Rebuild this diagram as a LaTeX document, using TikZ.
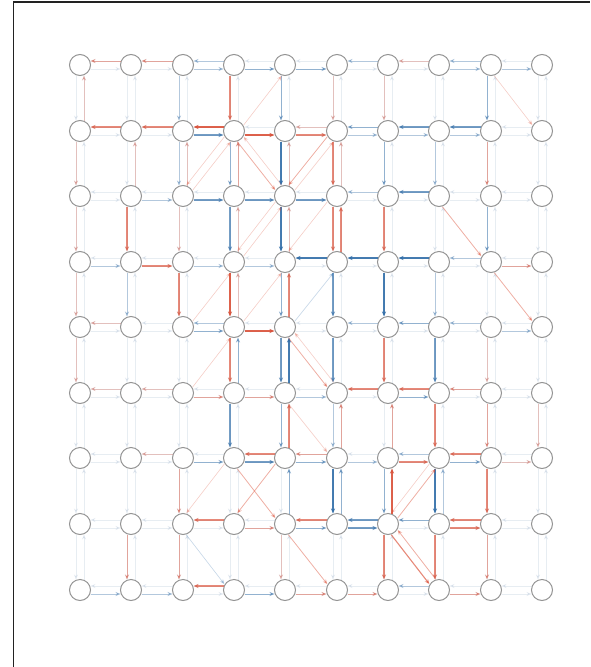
\documentclass[tikz,border=0pt]{standalone}
\usetikzlibrary{arrows.meta,calc}
\definecolor{rd}{HTML}{DA4C33}
\definecolor{bl}{HTML}{2C6AA6}
\definecolor{pale}{HTML}{A9BDD2}
\definecolor{ringgray}{HTML}{949494}
\definecolor{frameink}{HTML}{222222}
\newcommand{\noderow}[2]{%
  \node[unit] (n0#1) at (80,#2) {};
  \node[unit] (n1#1) at (131,#2) {};
  \node[unit] (n2#1) at (183,#2) {};
  \node[unit] (n3#1) at (234,#2) {};
  \node[unit] (n4#1) at (285,#2) {};
  \node[unit] (n5#1) at (337,#2) {};
  \node[unit] (n6#1) at (388,#2) {};
  \node[unit] (n7#1) at (439,#2) {};
  \node[unit] (n8#1) at (491,#2) {};
  \node[unit] (n9#1) at (542,#2) {};
}
\newcommand{\arcto}[4]{\draw[#3, #4] ($(#1.center)!4pt!-90:(#2.center)$) -- ($(#2.center)!4pt!90:(#1.center)$);}
\newcommand{\twoway}[2]{\arcto{#1}{#2}{pale}{haze}\arcto{#2}{#1}{pale}{haze}}
\newcommand{\hlinks}[1]{%
  \twoway{n0#1}{n1#1}\twoway{n1#1}{n2#1}\twoway{n2#1}{n3#1}
  \twoway{n3#1}{n4#1}\twoway{n4#1}{n5#1}\twoway{n5#1}{n6#1}
  \twoway{n6#1}{n7#1}\twoway{n7#1}{n8#1}\twoway{n8#1}{n9#1}
}
\newcommand{\vlinks}[2]{%
  \twoway{n0#1}{n0#2}\twoway{n1#1}{n1#2}\twoway{n2#1}{n2#2}
  \twoway{n3#1}{n3#2}\twoway{n4#1}{n4#2}\twoway{n5#1}{n5#2}
  \twoway{n6#1}{n6#2}\twoway{n7#1}{n7#2}\twoway{n8#1}{n8#2}
  \twoway{n9#1}{n9#2}
}

\begin{document}
\begin{tikzpicture}[x=1pt, y=-1pt,
  unit/.style={circle, draw=ringgray, fill=white, line width=1pt, minimum size=21pt, inner sep=0pt},
  tipped/.style={-{Stealth[length=5pt,width=4pt]}, shorten <=10.5pt, shorten >=10.5pt},
  haze/.style={tipped, line width=0.5pt, opacity=0.28},
  faint/.style={tipped, line width=0.6pt, opacity=0.28},
  light/.style={tipped, line width=0.8pt, opacity=0.45},
  mid/.style={tipped, line width=1.1pt, opacity=0.66},
  strong/.style={tipped, line width=1.4pt, opacity=0.88}]

  \useasboundingbox (0,0) rectangle (590,667);
  \draw[frameink, line width=1.5pt] (13.5,667) -- (13.5,2) -- (590,2);

  \noderow{0}{65}
  \noderow{1}{131}
  \noderow{2}{196}
  \noderow{3}{262}
  \noderow{4}{327}
  \noderow{5}{393}
  \noderow{6}{458}
  \noderow{7}{524}
  \noderow{8}{590}

  \hlinks{0} \hlinks{1} \hlinks{2} \hlinks{3} \hlinks{4}
  \hlinks{5} \hlinks{6} \hlinks{7} \hlinks{8}
  \vlinks{0}{1} \vlinks{1}{2} \vlinks{2}{3} \vlinks{3}{4}
  \vlinks{4}{5} \vlinks{5}{6} \vlinks{6}{7} \vlinks{7}{8}

  \arcto{n10}{n00}{rd}{light}
  \arcto{n20}{n10}{rd}{light}
  \arcto{n20}{n30}{bl}{faint}
  \arcto{n30}{n20}{bl}{faint}
  \arcto{n30}{n40}{bl}{light}
  \arcto{n40}{n50}{bl}{light}
  \arcto{n60}{n50}{bl}{faint}
  \arcto{n70}{n60}{rd}{faint}
  \arcto{n70}{n80}{bl}{faint}
  \arcto{n80}{n70}{bl}{faint}
  \arcto{n80}{n90}{bl}{faint}

  \arcto{n01}{n00}{rd}{faint}
  \arcto{n20}{n21}{bl}{faint}
  \arcto{n30}{n31}{rd}{mid}
  \arcto{n40}{n41}{bl}{light}
  \arcto{n50}{n51}{rd}{faint}
  \arcto{n60}{n61}{rd}{faint}
  \arcto{n80}{n81}{bl}{light}
  \arcto{n80}{n91}{rd}{faint}

  \arcto{n11}{n01}{rd}{mid}
  \arcto{n21}{n11}{rd}{mid}
  \arcto{n31}{n21}{rd}{strong}
  \arcto{n21}{n31}{bl}{mid}
  \arcto{n31}{n41}{rd}{strong}
  \arcto{n41}{n51}{rd}{mid}
  \arcto{n51}{n41}{rd}{faint}
  \arcto{n61}{n51}{bl}{light}
  \arcto{n51}{n61}{bl}{faint}
  \arcto{n71}{n61}{bl}{mid}
  \arcto{n61}{n71}{bl}{faint}
  \arcto{n81}{n71}{bl}{mid}
  \arcto{n71}{n81}{bl}{faint}

  \arcto{n01}{n02}{rd}{faint}
  \arcto{n12}{n11}{rd}{faint}
  \arcto{n21}{n22}{bl}{faint}
  \arcto{n22}{n21}{rd}{faint}
  \arcto{n31}{n32}{bl}{light}
  \arcto{n32}{n31}{rd}{light}
  \arcto{n41}{n42}{bl}{strong}
  \arcto{n42}{n41}{rd}{faint}
  \arcto{n51}{n52}{rd}{mid}
  \arcto{n52}{n51}{rd}{faint}
  \arcto{n61}{n62}{bl}{light}
  \arcto{n71}{n72}{bl}{faint}
  \arcto{n81}{n82}{rd}{light}
  \arcto{n31}{n22}{rd}{faint}
  \arcto{n22}{n31}{rd}{faint}
  \arcto{n31}{n42}{rd}{light}
  \arcto{n42}{n31}{rd}{faint}
  \arcto{n51}{n42}{rd}{light}
  \arcto{n42}{n51}{rd}{faint}
  \arcto{n31}{n40}{rd}{faint}

  \arcto{n12}{n22}{bl}{faint}
  \arcto{n22}{n32}{bl}{mid}
  \arcto{n32}{n42}{bl}{mid}
  \arcto{n42}{n52}{bl}{mid}
  \arcto{n62}{n52}{bl}{faint}
  \arcto{n72}{n62}{bl}{mid}

  \arcto{n02}{n03}{rd}{faint}
  \arcto{n12}{n13}{rd}{mid}
  \arcto{n22}{n23}{rd}{faint}
  \arcto{n32}{n33}{bl}{mid}
  \arcto{n33}{n32}{rd}{faint}
  \arcto{n42}{n43}{bl}{strong}
  \arcto{n43}{n42}{rd}{faint}
  \arcto{n52}{n53}{rd}{mid}
  \arcto{n53}{n52}{rd}{mid}
  \arcto{n62}{n63}{rd}{mid}
  \arcto{n82}{n83}{bl}{light}
  \arcto{n72}{n83}{rd}{light}
  \arcto{n42}{n33}{rd}{faint}
  \arcto{n52}{n43}{rd}{faint}
  \arcto{n33}{n42}{rd}{faint}

  \arcto{n03}{n13}{bl}{faint}
  \arcto{n13}{n23}{rd}{mid}
  \arcto{n23}{n33}{bl}{faint}
  \arcto{n33}{n43}{bl}{faint}
  \arcto{n53}{n43}{bl}{strong}
  \arcto{n63}{n53}{bl}{strong}
  \arcto{n73}{n63}{bl}{strong}
  \arcto{n83}{n73}{bl}{faint}
  \arcto{n83}{n93}{rd}{light}

  \arcto{n03}{n04}{rd}{faint}
  \arcto{n13}{n14}{bl}{faint}
  \arcto{n23}{n24}{rd}{mid}
  \arcto{n33}{n34}{rd}{strong}
  \arcto{n34}{n33}{rd}{faint}
  \arcto{n43}{n44}{bl}{light}
  \arcto{n44}{n43}{rd}{mid}
  \arcto{n53}{n54}{bl}{mid}
  \arcto{n63}{n64}{bl}{strong}
  \arcto{n73}{n74}{bl}{faint}
  \arcto{n83}{n94}{rd}{light}
  \arcto{n24}{n33}{rd}{faint}
  \arcto{n34}{n43}{rd}{faint}
  \arcto{n44}{n53}{bl}{faint}

  \arcto{n14}{n04}{rd}{faint}
  \arcto{n24}{n34}{bl}{light}
  \arcto{n34}{n24}{bl}{faint}
  \arcto{n34}{n44}{rd}{strong}
  \arcto{n64}{n54}{bl}{faint}
  \arcto{n74}{n64}{bl}{light}
  \arcto{n84}{n74}{bl}{faint}
  \arcto{n84}{n94}{bl}{faint}

  \arcto{n04}{n05}{rd}{faint}
  \arcto{n34}{n35}{rd}{mid}
  \arcto{n35}{n34}{bl}{light}
  \arcto{n44}{n45}{bl}{mid}
  \arcto{n45}{n44}{bl}{strong}
  \arcto{n54}{n55}{bl}{mid}
  \arcto{n64}{n65}{rd}{mid}
  \arcto{n74}{n75}{bl}{mid}
  \arcto{n84}{n85}{rd}{faint}
  \arcto{n44}{n55}{rd}{light}
  \arcto{n55}{n44}{rd}{faint}
  \arcto{n25}{n34}{rd}{faint}

  \arcto{n15}{n05}{rd}{faint}
  \arcto{n25}{n15}{rd}{faint}
  \arcto{n25}{n35}{rd}{light}
  \arcto{n35}{n45}{rd}{light}
  \arcto{n45}{n55}{bl}{faint}
  \arcto{n65}{n55}{rd}{mid}
  \arcto{n75}{n65}{rd}{mid}
  \arcto{n65}{n75}{bl}{light}
  \arcto{n85}{n75}{rd}{light}

  \arcto{n35}{n36}{bl}{mid}
  \arcto{n45}{n46}{bl}{light}
  \arcto{n46}{n45}{rd}{mid}
  \arcto{n55}{n56}{bl}{faint}
  \arcto{n56}{n55}{rd}{light}
  \arcto{n66}{n65}{rd}{light}
  \arcto{n75}{n76}{rd}{mid}
  \arcto{n85}{n86}{rd}{light}
  \arcto{n95}{n96}{rd}{faint}
  \arcto{n45}{n56}{rd}{faint}

  \arcto{n26}{n16}{rd}{faint}
  \arcto{n26}{n36}{bl}{light}
  \arcto{n46}{n36}{rd}{mid}
  \arcto{n36}{n46}{bl}{mid}
  \arcto{n56}{n46}{rd}{light}
  \arcto{n46}{n56}{bl}{light}
  \arcto{n56}{n66}{bl}{faint}
  \arcto{n66}{n76}{rd}{mid}
  \arcto{n76}{n66}{bl}{faint}
  \arcto{n86}{n76}{rd}{mid}
  \arcto{n76}{n86}{bl}{light}
  \arcto{n86}{n96}{rd}{faint}

  \arcto{n26}{n27}{rd}{light}
  \arcto{n47}{n46}{bl}{light}
  \arcto{n56}{n57}{bl}{strong}
  \arcto{n57}{n56}{bl}{light}
  \arcto{n66}{n67}{bl}{light}
  \arcto{n67}{n66}{rd}{strong}
  \arcto{n76}{n77}{bl}{strong}
  \arcto{n77}{n76}{bl}{faint}
  \arcto{n86}{n87}{rd}{mid}
  \arcto{n36}{n47}{rd}{light}
  \arcto{n46}{n37}{rd}{light}
  \arcto{n67}{n76}{rd}{light}
  \arcto{n76}{n67}{rd}{faint}
  \arcto{n36}{n27}{rd}{faint}

  \arcto{n37}{n27}{rd}{mid}
  \arcto{n37}{n47}{rd}{light}
  \arcto{n57}{n47}{rd}{mid}
  \arcto{n47}{n57}{bl}{light}
  \arcto{n67}{n57}{bl}{mid}
  \arcto{n57}{n67}{bl}{mid}
  \arcto{n77}{n67}{bl}{light}
  \arcto{n87}{n77}{rd}{mid}
  \arcto{n77}{n87}{rd}{mid}

  \arcto{n17}{n18}{rd}{light}
  \arcto{n27}{n28}{rd}{light}
  \arcto{n47}{n48}{rd}{faint}
  \arcto{n67}{n68}{rd}{mid}
  \arcto{n77}{n78}{rd}{mid}
  \arcto{n87}{n88}{rd}{light}
  \arcto{n47}{n58}{rd}{light}
  \arcto{n67}{n78}{rd}{mid}
  \arcto{n78}{n67}{rd}{light}
  \arcto{n27}{n38}{bl}{faint}

  \arcto{n08}{n18}{bl}{faint}
  \arcto{n18}{n28}{bl}{faint}
  \arcto{n38}{n28}{rd}{mid}
  \arcto{n38}{n48}{bl}{light}
  \arcto{n48}{n58}{rd}{light}
  \arcto{n58}{n68}{rd}{light}
  \arcto{n78}{n68}{bl}{faint}
  \arcto{n78}{n88}{rd}{light}

\end{tikzpicture}
\end{document}
